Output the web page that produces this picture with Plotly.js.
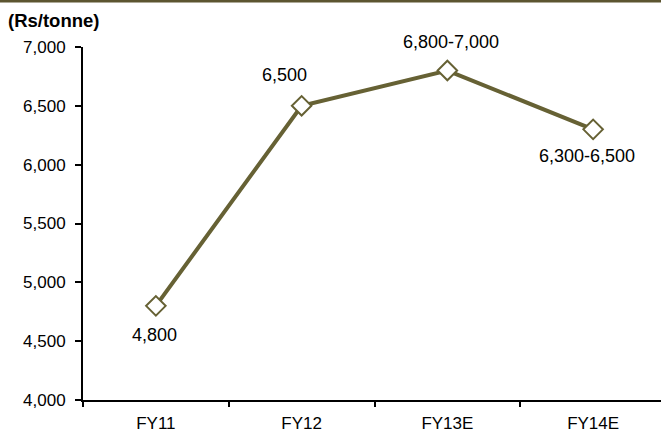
<!DOCTYPE html>
<html>
<head>
<meta charset="utf-8">
<script src="https://cdn.plot.ly/plotly-3.0.1.min.js"></script>
<style>
  html, body { margin: 0; padding: 0; background: #fff; }
  #chart { width: 661px; height: 432px; }
</style>
</head>
<body>
<div id="chart"></div>
<script>
// Realisation per tonne, by fiscal year
const years = ['FY11', 'FY12', 'FY13E', 'FY14E'];
const prices = [4800, 6500, 6800, 6300];
const priceLabels = ['4,800', '6,500', '6,800-7,000', '6,300-6,500'];
const labelShiftX = [-1, -17, 4, -6];
const labelShiftY = [-29, 31, 29, -27];
const yTicks = [4000, 4500, 5000, 5500, 6000, 6500, 7000];

const olive = '#666134';
const font = { family: 'Liberation Sans, Arial, sans-serif', size: 17, color: '#000' };
const labelFont = { family: 'Liberation Sans, Arial, sans-serif', size: 18, color: '#000' };

const trace = {
  x: years,
  y: prices,
  type: 'scatter',
  mode: 'lines+markers',
  line: { color: olive, width: 4 },
  marker: { symbol: 'diamond', size: 15, color: '#fff', line: { color: olive, width: 2 } },
  hoverinfo: 'skip'
};

const annotations = years.map((yr, i) => ({
  x: yr, y: prices[i], xref: 'x', yref: 'y',
  text: priceLabels[i], showarrow: false,
  xshift: labelShiftX[i], yshift: labelShiftY[i],
  font: labelFont
}));

const plotW = 661 - 83, plotH = 400 - 47;
annotations.push({
  xref: 'paper', yref: 'paper',
  x: -77 / plotW, y: 1 + 27 / plotH,
  xanchor: 'left', yanchor: 'middle',
  text: '<b>(Rs/tonne)</b>', showarrow: false,
  font: { family: 'Liberation Sans, Arial, sans-serif', size: 18.5, color: '#000' }
});

const layout = {
  width: 661, height: 432,
  margin: { l: 83, r: 0, t: 47, b: 32, pad: 0 },
  paper_bgcolor: '#fff', plot_bgcolor: '#fff',
  showlegend: false,
  font: font,
  xaxis: {
    type: 'category',
    range: [-0.5, 3.5 - 5 / 146],
    showline: true, linecolor: '#000', linewidth: 2,
    ticks: 'outside', tickson: 'boundaries', ticklen: 5, tickwidth: 2, tickcolor: '#000',
    showgrid: false, zeroline: false,
    ticklabelstandoff: 7,
    tickfont: font
  },
  yaxis: {
    range: [4000, 7000],
    tickvals: yTicks,
    ticktext: yTicks.map(v => v.toLocaleString('en-US')),
    showline: true, linecolor: '#000', linewidth: 2,
    ticks: 'outside', ticklen: 6, tickwidth: 2, tickcolor: '#000',
    showgrid: false, zeroline: false,
    ticklabelstandoff: 6,
    tickfont: font
  },
  shapes: [{
    type: 'line', xref: 'paper', yref: 'paper',
    x0: -83 / plotW, x1: 1, y0: 1 + 46 / plotH, y1: 1 + 46 / plotH,
    line: { color: '#5c5530', width: 3 }
  }],
  annotations: annotations
};

Plotly.newPlot('chart', [trace], layout, { displayModeBar: false, staticPlot: true });
</script>
</body>
</html>
